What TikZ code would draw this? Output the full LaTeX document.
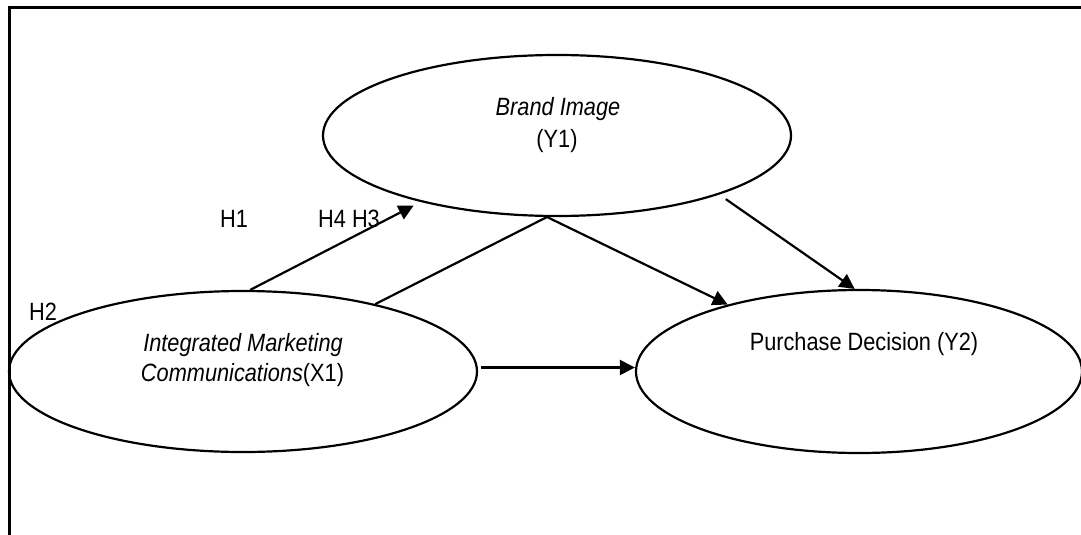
\documentclass[tikz,border=0pt]{standalone}
\usepackage{fontspec}
\setmainfont{Liberation Sans}[FakeStretch=0.87]
\usetikzlibrary{shapes.geometric,arrows.meta}
\begin{document}
\begin{tikzpicture}[x=1pt,y=-1pt,
  lat/.style={draw,ellipse,line width=2.2pt,inner sep=0pt},
  conn/.style={line width=2.2pt},
  arr/.style={conn,-{Triangle[length=15pt,width=15pt]}},
  lbl/.style={anchor=base,inner sep=0pt,font=\fontsize{25}{30}\selectfont}]
\useasboundingbox (0,0) rectangle (1081,535);
\draw[line width=2.6pt] (9.5,535) -- (9.5,7.5) -- (1081,7.5);
\node[lat,minimum width=468pt,minimum height=161pt] (BI) at (557,135.5) {};
\node[lat,minimum width=468pt,minimum height=161pt] (X1) at (243,371.5) {};
\node[lat,minimum width=446pt,minimum height=163pt] (Y2) at (859,371.5) {};
\node[lbl] (tBI) at (558,115) {\textit{Brand Image}};
\node[lbl] (tY1) at (557,147) {(Y1)};
\node[lbl] (tX1a) at (243,351.7) {\textit{Integrated Marketing}};
\node[lbl] (tX1b) at (242.5,381.7) {\textit{Communications}(X1)};
\node[lbl] (tY2) at (864,350) {Purchase Decision (Y2)};
\node[lbl] (h1) at (234,227) {H1};
\node[lbl] (h43) at (349,227) {H4 H3};
\node[lbl] (h2) at (43,320) {H2};
\draw[arr,shorten >=8pt] (X1.85) -- (BI.206);
\draw[arr] (X1.27.6) -- (BI.263) -- (Y2.153);
\draw[arr,shorten <=8pt] (BI.340.6) -- (Y2.93);
\draw[arr,shorten <=3pt] ([yshift=4pt]X1.east) -- ([yshift=4pt]Y2.west);
\end{tikzpicture}
\end{document}
